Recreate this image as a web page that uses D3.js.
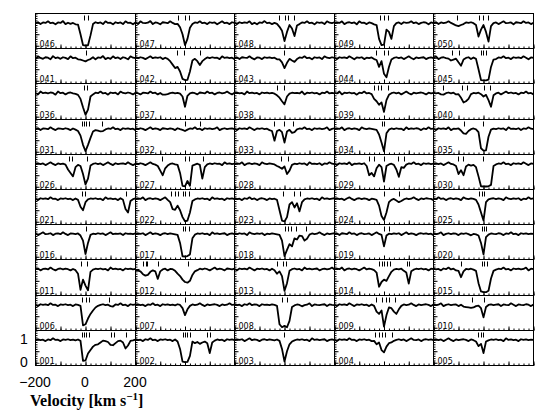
<!DOCTYPE html>
<html>
<head>
<meta charset="utf-8">
<script src="https://cdn.jsdelivr.net/npm/d3@7"></script>
<style>
body { margin: 0; background: #fff; }
</style>
</head>
<body>
<div id="chart"></div>
<script>
// velocity grid (km/s) shared by every panel
var velocity = [-200,-190,-180,-170,-160,-150,-140,-130,-120,-110,-100,-90,-80,-70,-60,-50,-40,-30,-20,-10,
                0,10,20,30,40,50,60,70,80,90,100,110,120,130,140,150,160,170,180,190,200];

// normalised flux (percent) for each sightline, and velocities of the component marks
var s046 = [98,102,94,101,99, 106,98,100,93,101, 99,107,94,100,95, 99,93,92,50,3, 1,2,45,94,102, 98,101,94,106,99, 100,93,102,98,101, 94,106,99,100,93, 101];
var t046 = [-5,10];
var s047 = [101,94,106,99,98, 100,107,94,101,99, 93,102,100,98,106, 99,94,95,80,50, 3,30,78,94,101, 99,106,98,100,94, 102,99,101,93,100, 106,98,100,94,102, 99];
var t047 = [-27,0,20];
var s048 = [100,94,102,98,101, 99,106,94,100,93, 101,99,107,98,100, 94,99,95,82,65, 20,60,90,75,42, 88,94,101,99,106, 98,100,93,102,99, 101,94,106,100,98, 102];
var t048 = [-20,5,15,40];
var s049 = [98,101,99,106,94, 100,102,98,101,93, 106,99,100,94,101, 98,93,90,30,3, 5,70,60,30,85, 98,101,94,102,99, 100,106,98,101,94, 99,102,100,93,101, 98];
var t049 = [-15,0,20];
var s050 = [99,102,94,101,98, 100,106,99,94,88, 85,90,94,101,99, 102,98,90,40,70, 90,60,18,85,98, 101,94,100,106,98, 99,101,93,102,100, 98,106,99,101,94, 100];
var t050 = [-103,-17,0,21];

var s041 = [94,106,99,95,102, 100,93,107,98,101, 95,102,99,94,106, 98,100,93,92,88, 84,90,94,102,93, 101,99,107,94,100, 95,106,98,101,94, 102,99,93,106,100, 98];
var t041 = [5];
var s042 = [101,98,102,99,94, 100,106,98,101,99, 102,94,100,95,85, 70,55,60,40,8, 3,4,40,88,95, 85,68,85,94,101, 98,102,99,100,94, 106,99,101,98,100, 94];
var t042 = [-31,-2,62];
var s043 = [98,101,94,102,100, 99,106,98,93,101, 100,94,102,99,101, 98,100,93,93,80, 55,78,95,88,82, 94,101,99,106,98, 100,93,102,99,101, 94,106,100,98,102, 99];
var t043 = [0];
var s044 = [100,94,102,99,101, 98,106,100,93,101, 99,102,94,100,98, 101,94,90,60,85, 30,15,60,92,99, 102,98,101,94,100, 106,99,93,101,98, 100,102,94,99,101, 98];
var t044 = [-30,2,18];
var s045 = [99,106,94,100,102, 98,96,88,92,96, 80,65,92,99,102, 94,101,95,50,3, 2,2,5,60,92, 94,101,99,106,98, 100,94,102,99,101, 98,106,100,93,101, 99];
var t045 = [-125,-95,-8,1,12];

var s036 = [100,94,106,99,101, 98,102,100,93,106, 99,101,94,100,102, 98,96,92,75,40, 8,30,85,94,101, 99,106,98,100,93, 102,99,101,94,106, 100,98,102,99,94, 101];
var t036 = [-5,6];
var s037 = [102,99,94,101,100, 98,106,99,101,94, 100,93,93,95,99, 101,98,100,97,85, 42,88,98,101,99, 94,102,100,98,106, 99,101,94,100,102, 98,100,106,99,94, 101];
var t037 = [0];
var s038 = [99,102,98,100,94, 106,99,101,98,100, 94,102,99,101,98, 100,97,90,80,65, 52,85,97,101,99, 100,98,106,94,101, 99,102,98,100,94, 101,99,106,98,100, 98];
var t038 = [-30,0];
var s039 = [100,98,106,94,101, 99,102,98,100,93, 101,99,106,98,100, 95,75,65,50,60, 20,70,92,99,102, 98,101,94,100,106, 99,94,101,98,100, 102,99,94,101,98, 100];
var t039 = [-37,-23,-10,17];
var s040 = [101,98,100,94,93, 99,102,98,101,94, 95,80,60,65,75, 95,100,98,101,95, 85,92,70,42,90, 98,101,94,100,106, 99,102,98,100,94, 101,99,106,98,100, 94];
var t040 = [-160,-85,-65,4,28];

var s031 = [99,102,94,101,100, 98,106,99,94,101, 100,98,102,99,94, 101,96,90,70,30, 2,30,60,88,94, 92,88,90,97,101, 99,106,98,100,94, 102,99,101,98,100, 94];
var t031 = [-14,-5,5,15,69];
var s032 = [101,98,102,99,94, 100,106,98,101,99, 94,102,100,98,101, 99,94,102,98,95, 90,96,101,99,106, 98,100,94,102,99, 101,98,100,106,94, 99,102,98,100,101, 98];
var t032 = [0,61];
var s033 = [100,94,102,99,101, 98,106,100,94,101, 99,102,98,100,94, 90,48,90,95,85, 40,88,95,82,85, 97,101,99,106,98, 100,94,102,99,101, 98,100,106,94,99, 102];
var t033 = [-39,0,37];
var s034 = [98,101,99,106,94, 100,102,98,101,99, 94,106,100,98,101, 99,97,95,75,40, 2,80,96,101,98, 102,99,100,94,106, 98,101,99,102,100, 94,101,98,106,99, 100];
var t034 = [-7,3];
var s035 = [100,94,102,99,101, 98,106,94,100,99, 101,92,80,78,90, 98,101,97,85,15, 5,6,65,96,100, 98,102,99,101,94, 106,99,100,98,102, 94,101,99,106,100, 98];
var t035 = [-75,1];

var s026 = [99,102,98,101,94, 100,106,99,94,101, 98,100,96,75,60, 45,85,95,90,55, 10,35,92,99,102, 98,101,94,100,106, 99,94,102,98,100, 101,98,106,99,94, 100];
var t026 = [-65,-51,6];
var s027 = [101,98,102,99,94, 100,106,99,96,90, 70,50,80,92,99, 101,97,95,60,4, 2,25,4,92,96, 100,95,35,85,97, 101,98,102,99,100, 94,106,99,101,98, 100];
var t027 = [-90,3,17,74];
var s028 = [98,101,99,106,94, 100,102,98,101,99, 94,106,100,98,101, 99,97,90,85,78, 88,55,70,95,100, 98,102,99,101,94, 106,99,100,98,102, 94,101,99,106,100, 98];
var t028 = [-13,15];
var s029 = [100,94,102,99,101, 98,106,94,100,99, 101,98,102,90,50, 60,45,80,96,85, 22,90,97,100,95, 75,43,85,82,96, 101,99,106,98,100, 94,102,99,101,98, 100];
var t029 = [-57,-37,3,59,82];
var s030 = [99,102,98,101,94, 100,106,99,97,90, 55,72,50,88,96, 92,95,85,45,2, 1,1,2,8,90, 97,101,99,106,98, 100,94,102,99,101, 98,106,100,94,101, 99];
var t030 = [-99,-81,1];

var s021 = [100,94,102,99,101, 98,106,99,100,94, 101,99,102,98,100, 94,101,95,65,50, 85,97,101,99,102, 98,100,94,106,99, 101,98,100,94,102, 95,55,40,90,98, 101];
var t021 = [-11,-2,162];
var s022 = [98,101,99,106,94, 100,102,98,101,99, 94,100,106,95,85, 55,52,70,50,20, 2,5,40,90,97, 101,99,102,98,100, 94,106,99,101,98, 100,94,102,99,101, 98];
var t022 = [-53,-40,-27,-7,2,17];
var s023 = [101,98,100,94,102, 99,106,98,101,94, 100,102,99,94,101, 98,100,95,50,5, 1,20,75,85,62, 80,45,85,97,101, 99,102,98,100,94, 106,99,101,98,100, 102];
var t023 = [-3,40,64];
var s024 = [99,102,98,100,94, 101,106,99,94,100, 102,98,101,99,94, 100,98,95,70,25, 8,40,85,95,99, 92,85,90,97,101, 98,100,106,99,94, 101,98,102,100,99, 94];
var t024 = [0,63];
var s025 = [100,98,106,99,101, 94,100,102,98,101, 99,94,106,100,98, 101,99,95,75,40, 5,85,97,100,102, 98,101,99,94,106, 100,98,101,99,102, 94,100,98,106,99, 101];
var t025 = [-15,-5,4];

var s016 = [101,94,100,106,98, 99,102,94,100,101, 98,106,99,94,101, 100,98,101,92,70, 12,60,95,100,98, 102,99,101,94,100, 106,98,100,99,101, 94,102,99,100,98, 101];
var t016 = [5];
var s017 = [98,101,99,102,94, 100,106,98,101,99, 94,100,102,98,101, 99,97,95,60,2, 1,3,10,80,96, 101,99,102,98,100, 94,106,99,101,98, 100,102,94,99,101, 98];
var t017 = [-7,0,20];
var s018 = [100,98,102,99,101, 94,106,100,98,101, 99,102,94,100,98, 101,99,97,95,70, 3,30,55,45,80, 75,92,90,70,78, 96,101,98,100,106, 99,94,101,98,100, 102];
var t018 = [2,15,27,47,87];
var s019 = [99,101,94,102,100, 98,106,99,101,94, 100,102,98,99,101, 94,100,106,99,95, 45,92,100,98,101, 99,102,94,100,106, 98,101,99,94,100, 102,99,101,98,100, 94];
var t019 = [0,23];
var s020 = [101,98,100,106,94, 99,102,98,101,100, 94,101,99,102,98, 93,99,97,92,60, 10,85,96,101,99, 98,102,100,94,101, 99,106,98,100,94, 102,99,101,98,100, 99];
var t020 = [-5,4,12];

var s011 = [99,102,94,100,101, 98,106,99,94,100, 102,98,101,99,94, 100,95,80,12,55, 30,10,88,97,101, 99,102,98,100,94, 106,99,101,98,100, 94,102,99,101,98, 100];
var t011 = [-18,6];
var s012 = [96,93,90,78,72, 75,88,94,90,58, 90,98,101,94,100, 99,92,80,70,55, 45,42,50,75,90, 95,101,98,102,99, 94,100,106,98,101, 99,94,102,100,98, 101];
var t012 = [-167,-157,-150,-108,13];
var s013 = [100,94,102,99,101, 98,106,100,94,101, 99,102,98,100,94, 101,95,80,90,70, 8,40,92,99,102, 98,100,94,106,99, 101,98,100,102,94, 99,101,98,100,106, 98];
var t013 = [-30,-3,8];
var s014 = [98,101,99,106,94, 100,102,98,101,99, 94,100,106,98,101, 99,95,85,25,45, 55,50,70,88,97, 100,98,101,92,85, 38,90,97,101,99, 102,98,100,94,101, 99];
var t014 = [-17,-7,3,15,26,95,103];
var s015 = [101,98,100,94,102, 99,106,98,101,94, 92,65,90,100,98, 101,97,92,40,5, 2,2,8,60,92, 97,101,99,106,98, 100,94,102,99,101, 98,100,106,94,101, 99];
var t015 = [-86,-5,4,15];

var s006 = [100,94,102,99,101, 98,106,99,100,94, 101,99,102,98,100, 94,101,99,95,10, 15,40,60,75,88, 95,99,102,98,100, 94,92,101,99,106, 98,100,94,102,99, 101];
var t006 = [-14,2,15,95];
var s007 = [99,102,98,100,94, 101,99,106,98,100, 94,102,99,101,98, 100,97,102,99,85, 55,80,95,101,98, 100,106,99,94,101, 98,100,102,99,94, 101,98,100,106,99, 100];
var t007 = [0];
var s008 = [101,98,100,94,102, 99,106,98,101,100, 94,102,99,100,98, 101,99,95,15,2, 8,2,30,90,97, 101,99,93,98,100, 106,94,101,99,98, 100,102,94,101,99, 98];
var t008 = [-9,11];
var s009 = [100,94,102,99,101, 98,106,100,94,101, 99,102,98,100,94, 101,95,70,60,75, 5,55,88,85,70, 60,80,95,101,98, 100,106,99,94,101, 98,100,102,99,94, 101];
var t009 = [-30,-7,10,23,46];
var s010 = [101,98,100,106,94, 99,102,98,100,101, 94,100,92,90,88, 86,88,94,96,85, 45,90,99,101,98, 100,102,94,101,99, 98,106,100,94,101, 99,98,102,100,94, 101];
var t010 = [-45,4];

var s001 = [99,102,98,100,94, 101,98,106,99,100, 94,101,99,102,98, 100,97,101,95,8, 10,40,55,70,78, 80,88,96,94,90, 78,76,85,94,96, 88,62,75,95,97, 100];
var t001 = [-14,-5,3,15,102,115,162];
var s002 = [101,98,100,94,102, 99,106,98,100,94, 101,99,102,98,100, 94,101,92,60,5, 3,4,30,92,85, 90,82,88,92,85, 42,88,96,101,98, 100,94,102,99,101, 98];
var t002 = [-7,2,11,22,89,102];
var s003 = [98,101,99,102,94, 100,106,98,101,99, 94,100,102,98,101, 99,97,101,95,60, 5,50,80,92,97, 101,99,102,98,100, 94,106,99,101,98, 100,102,94,99,101, 98];
var t003 = [0];
var s004 = [100,94,102,99,101, 98,106,99,100,94, 101,99,102,98,100, 94,95,80,88,55, 45,70,85,88,95, 99,102,98,101,94, 100,106,99,98,101, 94,100,102,99,101, 98];
var t004 = [-34,-17,-7,6,33];
var s005 = [99,102,98,101,94, 100,106,99,94,101, 98,100,102,99,94, 101,98,92,72,82, 42,92,97,101,99, 102,98,100,94,106, 99,101,98,100,94, 102,99,101,98,100, 99];
var t005 = [-19,-9,1];

// panels in reading order, top-left to bottom-right
var panels = [
  ["046", s046, t046], ["047", s047, t047], ["048", s048, t048], ["049", s049, t049], ["050", s050, t050],
  ["041", s041, t041], ["042", s042, t042], ["043", s043, t043], ["044", s044, t044], ["045", s045, t045],
  ["036", s036, t036], ["037", s037, t037], ["038", s038, t038], ["039", s039, t039], ["040", s040, t040],
  ["031", s031, t031], ["032", s032, t032], ["033", s033, t033], ["034", s034, t034], ["035", s035, t035],
  ["026", s026, t026], ["027", s027, t027], ["028", s028, t028], ["029", s029, t029], ["030", s030, t030],
  ["021", s021, t021], ["022", s022, t022], ["023", s023, t023], ["024", s024, t024], ["025", s025, t025],
  ["016", s016, t016], ["017", s017, t017], ["018", s018, t018], ["019", s019, t019], ["020", s020, t020],
  ["011", s011, t011], ["012", s012, t012], ["013", s013, t013], ["014", s014, t014], ["015", s015, t015],
  ["006", s006, t006], ["007", s007, t007], ["008", s008, t008], ["009", s009, t009], ["010", s010, t010],
  ["001", s001, t001], ["002", s002, t002], ["003", s003, t003], ["004", s004, t004], ["005", s005, t005]
];

var xTicks = [-200, 0, 200];
var yTicks = [0, 1];

var width = 550, height = 413;
var svg = d3.select("#chart").append("svg")
    .attr("width", width)
    .attr("height", height);

var colX = d3.scaleLinear().domain([0, 5]).range([35, 533]);
var rowY = d3.scaleLinear().domain([0, 10]).range([13, 365]);

var x = d3.scaleLinear().domain([-200, 200]);
var y = d3.scaleLinear().domain([-0.12, 1.4]);

panels.forEach(function(p, i) {
    var c = i % 5, r = Math.floor(i / 5);
    var x0 = Math.round(colX(c)), x1 = Math.round(colX(c + 1));
    var y0 = Math.round(rowY(r)), y1 = Math.round(rowY(r + 1));
    var w = x1 - x0, h = y1 - y0;
    x.range([0, w]);
    y.range([h, 0]);

    var g = svg.append("g")
        .attr("transform", "translate(" + (x0 + 0.5) + "," + (y0 + 0.5) + ")");

    // tick marks along the left and bottom edges
    var ax = g.append("g").attr("class", "ticks");
    ax.append("g").call(d3.axisRight(y).tickValues(d3.range(-0.1, 1.41, 0.1)).tickSize(2).tickFormat(""));
    ax.append("g").call(d3.axisRight(y).tickValues([0, 0.5, 1]).tickSize(4).tickFormat(""));
    ax.append("g").attr("transform", "translate(0," + h + ")")
        .call(d3.axisTop(x).tickValues(d3.range(-200, 201, 20)).tickSize(2).tickFormat(""));
    ax.append("g").attr("transform", "translate(0," + h + ")")
        .call(d3.axisTop(x).tickValues([-200, -100, 0, 100, 200]).tickSize(4).tickFormat(""));
    ax.selectAll(".domain").remove();
    ax.selectAll("line").attr("stroke", "#000").attr("stroke-width", 1);

    g.append("rect")
        .attr("width", w)
        .attr("height", h)
        .attr("fill", "none")
        .attr("stroke", "#000")
        .attr("stroke-width", 1);

    var line = d3.line()
        .x(function(d, j) { return x(velocity[j]); })
        .y(function(d) { return y(d / 100); });

    g.append("path")
        .datum(p[1])
        .attr("d", line)
        .attr("fill", "none")
        .attr("stroke", "#000")
        .attr("stroke-width", 1.8)
        .attr("stroke-linejoin", "round");

    g.selectAll(".comp")
        .data(p[2])
      .enter().append("line")
        .attr("class", "comp")
        .attr("x1", function(d) { return Math.round(x(d)); })
        .attr("x2", function(d) { return Math.round(x(d)); })
        .attr("y1", 2)
        .attr("y2", 7)
        .attr("stroke", "#000")
        .attr("stroke-width", 1);

    g.append("text")
        .attr("x", 4)
        .attr("y", h - 2)
        .style("font-family", "DejaVu Sans, sans-serif")
        .style("font-size", "8px")
        .text(p[0]);
});

// axis numbers under the bottom-left panel only
var bx0 = Math.round(colX(0)), bx1 = Math.round(colX(1));
var by0 = Math.round(rowY(9)), by1 = Math.round(rowY(10));
x.range([bx0, bx1]);
y.range([by1, by0]);

svg.selectAll(".xlab")
    .data(xTicks)
  .enter().append("text")
    .attr("class", "xlab")
    .attr("x", function(d) { return x(d); })
    .attr("y", 387)
    .attr("text-anchor", "middle")
    .style("font-family", "Liberation Sans, Arial, sans-serif")
    .style("font-size", "14px")
    .text(function(d) { return d < 0 ? "\u2212" + Math.abs(d) : d; });

svg.selectAll(".ylab")
    .data(yTicks)
  .enter().append("text")
    .attr("class", "ylab")
    .attr("x", 24)
    .attr("y", function(d) { return y(d) + 5; })
    .attr("text-anchor", "middle")
    .style("font-family", "Liberation Sans, Arial, sans-serif")
    .style("font-size", "14px")
    .text(function(d) { return d; });

var title = svg.append("text")
    .attr("x", 30)
    .attr("y", 406)
    .style("font-family", "Liberation Serif, serif")
    .style("font-size", "16px")
    .style("font-weight", "bold");
title.append("tspan").text("Velocity [km s");
title.append("tspan").attr("dy", -6).style("font-size", "11px").text("\u22121");
title.append("tspan").attr("dy", 6).text("]");
</script>
</body>
</html>
